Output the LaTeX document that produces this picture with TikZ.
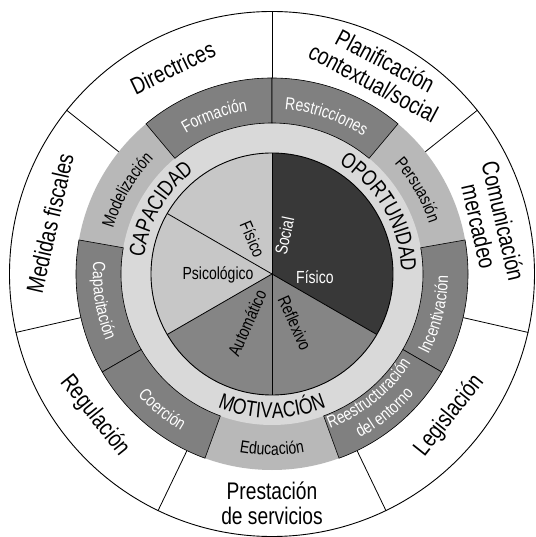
\documentclass[tikz,border=0pt]{standalone}
\usepackage{fontspec}
\setmainfont{Liberation Sans}[FakeStretch=0.8]
\usetikzlibrary{decorations.text}

% type sizes
\newcommand\policyfont{\fontsize{24}{25}\selectfont}
\newcommand\combfont{\fontsize{22}{23}\selectfont}
\newcommand\funcfont{\fontsize{17.5}{19}\selectfont}
\newcommand\piefont{\fontsize{17.5}{19}\selectfont}

% shades
\colorlet{capfill}{black!22}
\colorlet{motfill}{black!48}
\colorlet{oppfill}{black!78}
\colorlet{bandfill}{black!15}
\colorlet{lightseg}{black!28}
\colorlet{darkseg}{black!50}

% curved labels: #1 centre angle, #2 baseline radius (pt), #3 format, #4 text
\newcommand\cwlabel[4]{%
  \path[decorate,decoration={text along path,text align=center,text={|#3|#4}}]
    ({#1+45}:#2pt) arc[start angle={#1+45},end angle={#1-45},radius=#2pt];}
\newcommand\ccwlabel[4]{%
  \path[decorate,decoration={text along path,text align=center,text={|#3|#4}}]
    ({#1-45}:#2pt) arc[start angle={#1-45},end angle={#1+45},radius=#2pt];}

\begin{document}
\begin{tikzpicture}[x=1pt,y=1pt,
  policy/.style={font=\policyfont,align=center,inner sep=0pt},
  pielabel/.style={font=\piefont,inner sep=0pt},
  rim/.style={line width=0.9pt},
  spoke/.style={line width=0.8pt},
  box/.style={fill=darkseg,draw=black,line width=0.6pt},
]
\useasboundingbox (-272,-263) rectangle (263,274);

% ---- outer policy ring ----
\fill[white] (0,0) circle[radius=263pt];
\draw[rim] (0,0) circle[radius=262.5pt];
\foreach \k in {0,...,6}
  \draw[spoke] ({90-\k*360/7}:196pt) -- ({90-\k*360/7}:263pt);

% ---- intervention ring and source band ----
\fill[lightseg] (0,0) circle[radius=196pt];
\fill[bandfill] (0,0) circle[radius=151pt];
\foreach \a/\b in {90/130,50/90,-30/10,-70/-30,170/210,210/250}
  \path[box] (\a:151pt) arc[start angle=\a,end angle=\b,radius=151pt]
    -- (\b:196pt) arc[start angle=\b,end angle=\a,radius=196pt] -- cycle;

% ---- central pie ----
\fill[capfill] (0,0) -- (90:121pt) arc[start angle=90,end angle=210,radius=121pt] -- cycle;
\fill[motfill] (0,0) -- (210:121pt) arc[start angle=210,end angle=330,radius=121pt] -- cycle;
\fill[oppfill] (0,0) -- (-30:121pt) arc[start angle=-30,end angle=90,radius=121pt] -- cycle;
\draw[rim] (0,0) circle[radius=121pt];
\foreach \a in {90,150,210,270,330}
  \draw[spoke] (0,0) -- (\a:121pt);

% ---- pie labels ----
\node[pielabel,rotate=-67] (capfis) at (119:40pt) {Físico};
\node[pielabel] (psico) at (181:54pt) {Psicológico};
\node[pielabel,rotate=78,text=white] (social) at (72:40pt) {Social};
\node[pielabel,text=white] (oppfis) at (-4:43pt) {Físico};
\node[pielabel,rotate=66] (auto) at (243:55pt) {Automático};
\node[pielabel,rotate=-66] (refl) at (-65:54pt) {Reflexivo};

% ---- source band labels ----
\cwlabel{150}{129}{\combfont}{CAPACIDAD}
\cwlabel{30}{129}{\combfont}{OPORTUNIDAD}
\ccwlabel{270}{144}{\combfont}{MOTIVACIÓN}

% ---- intervention labels ----
\cwlabel{110}{165}{\funcfont\color{white}}{Formación}
\cwlabel{71}{165}{\funcfont\color{white}}{Restricciones}
\cwlabel{30}{165}{\funcfont}{Persuasión}
\cwlabel{150}{165}{\funcfont}{Modelización}
\ccwlabel{-14}{176}{\funcfont\color{white}}{Incentivación}
\ccwlabel{-51}{165}{\funcfont\color{white}}{Reestructuración}
\ccwlabel{-51}{186}{\funcfont\color{white}}{del entorno}
\ccwlabel{270}{181}{\funcfont}{Educación}
\ccwlabel{231}{181}{\funcfont\color{white}}{Coerción}
\ccwlabel{189}{179}{\funcfont\color{white}}{Capacitación}

% ---- policy labels ----
\node[policy,rotate=25.7] (dir) at (115.7:229pt) {Directrices};
\node[policy,rotate=-28] (plan) at (62:229pt) {Planificación\\contextual/social};
\node[policy,rotate=-77] (com) at (12.9:225pt) {Comunicación\\mercadeo};
\node[policy,rotate=51.4] (leg) at (-38.6:227pt) {Legislación};
\node[policy] (prest) at (-90:229pt) {Prestación\\de servicios};
\node[policy,rotate=-51.4] (reg) at (-141.4:227pt) {Regulación};
\node[policy,rotate=77.1] (fisc) at (167.1:228pt) {Medidas fiscales};
\end{tikzpicture}
\end{document}
